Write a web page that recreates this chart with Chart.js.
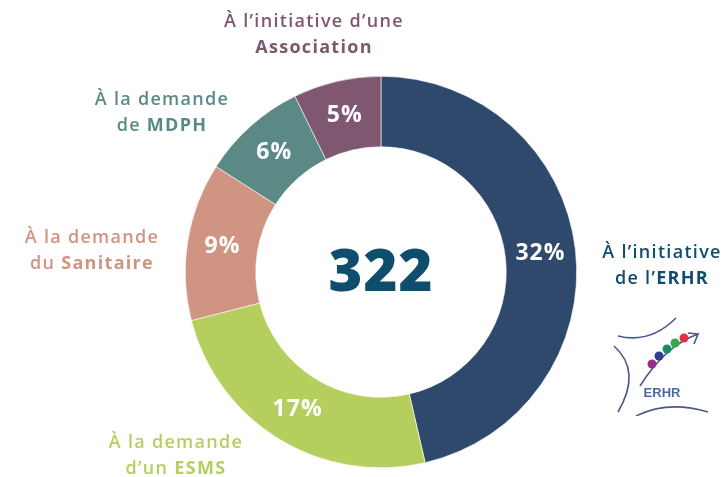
<!DOCTYPE html>
<html>
<head>
<meta charset="utf-8">
<script src="https://cdn.jsdelivr.net/npm/chart.js@4"></script>
<style>
  body { margin: 0; background: #fff; }
  #wrap { position: relative; width: 723px; height: 477px; font-family: "Open Sans", sans-serif; }
  #myChart { position: absolute; left: 0; top: 0; }
  .lbl { position: absolute; text-align: center; font-size: 18px; font-weight: 600; letter-spacing: 1.3px; line-height: 26px; white-space: nowrap; transform: translateX(-50%); }
  .lbl b { font-weight: 700; }
  #logo { position: absolute; left: 610px; top: 316px; }
</style>
</head>
<body>
<div id="wrap">
  <canvas id="myChart" width="723" height="477"></canvas>
  <div class="lbl" style="left:314px;top:7px;color:#7f5770">À l’initiative d’une<br><b>Association</b></div>
  <div class="lbl" style="left:162px;top:85px;color:#5b8a86">À la demande<br>de <b>MDPH</b></div>
  <div class="lbl" style="left:92px;top:223px;color:#d09482">À la demande<br>du <b>Sanitaire</b></div>
  <div class="lbl" style="left:176px;top:428px;color:#b5cf5e">À la demande<br>d’un <b>ESMS</b></div>
  <div class="lbl" style="left:662px;top:238px;color:#0e4d6b">À l’initiative<br>de l’<b>ERHR</b></div>
  <svg id="logo" width="100" height="100" viewBox="0 0 100 100">
    <path d="M8 20 Q40 28 66 2" fill="none" stroke="#4a5a8c" stroke-width="1.6"/>
    <path d="M4 30 Q32 55 8 96" fill="none" stroke="#4a5a8c" stroke-width="1.6"/>
    <path d="M30 70 Q55 30 88 18 L84 28 M88 18 L78 17" fill="none" stroke="#4a5a8c" stroke-width="1.6"/>
    <path d="M26 100 Q58 84 98 96" fill="none" stroke="#4a5a8c" stroke-width="1.6"/>
    <circle cx="42" cy="48" r="4.5" fill="#9b2e8c"/>
    <circle cx="49" cy="40" r="4.5" fill="#2d3f8f"/>
    <circle cx="57" cy="33" r="4.5" fill="#1f8a6a"/>
    <circle cx="65" cy="27" r="4.5" fill="#3aa844"/>
    <circle cx="74" cy="22" r="4.5" fill="#e0334a"/>
    <text x="52" y="81" font-family="Liberation Sans, sans-serif" font-size="13" font-weight="bold" fill="#4a6aa0" text-anchor="middle">ERHR</text>
  </svg>
</div>
<script>
var categories = ['ERHR', 'ESMS', 'Sanitaire', 'MDPH', 'Association']
var values = [32, 17, 9, 6, 5]
var colors = ['#2e496b', '#b5cf5e', '#d09482', '#5b8a86', '#7f5770']
var total = '322'

const ctx = document.getElementById('myChart')

const labelsPlugin = {
    id: 'labelsPlugin',
    afterDatasetsDraw(chart) {
        const c = chart.ctx
        const meta = chart.getDatasetMeta(0)
        c.save()
        c.textAlign = 'center'
        c.textBaseline = 'middle'
        c.fillStyle = '#ffffff'
        c.font = '700 23px "Open Sans"'
        c.letterSpacing = '1px'
        meta.data.forEach((arc, i) => {
            const p = arc.tooltipPosition()
            c.fillText(values[i] + '%', p.x, p.y)
        })
        const a = meta.data[0]
        c.fillStyle = '#0e4d6b'
        c.font = '800 58px "Open Sans"'
        c.fillText(total, a.x, a.y + 2)
        c.restore()
    }
}

var myChart = new Chart(ctx, {
    type: 'doughnut',
    data: {
        labels: categories,
        datasets: [{
            data: values,
            backgroundColor: colors,
            borderColor: '#ffffff',
            borderWidth: 0.6
        }]
    },
    options: {
        responsive: false,
        animation: false,
        cutout: '64%',
        layout: { padding: { left: 185, right: 146, top: 76, bottom: 9 } },
        plugins: { legend: { display: false }, tooltip: { enabled: false } }
    },
    plugins: [labelsPlugin]
})
</script>
</body>
</html>
